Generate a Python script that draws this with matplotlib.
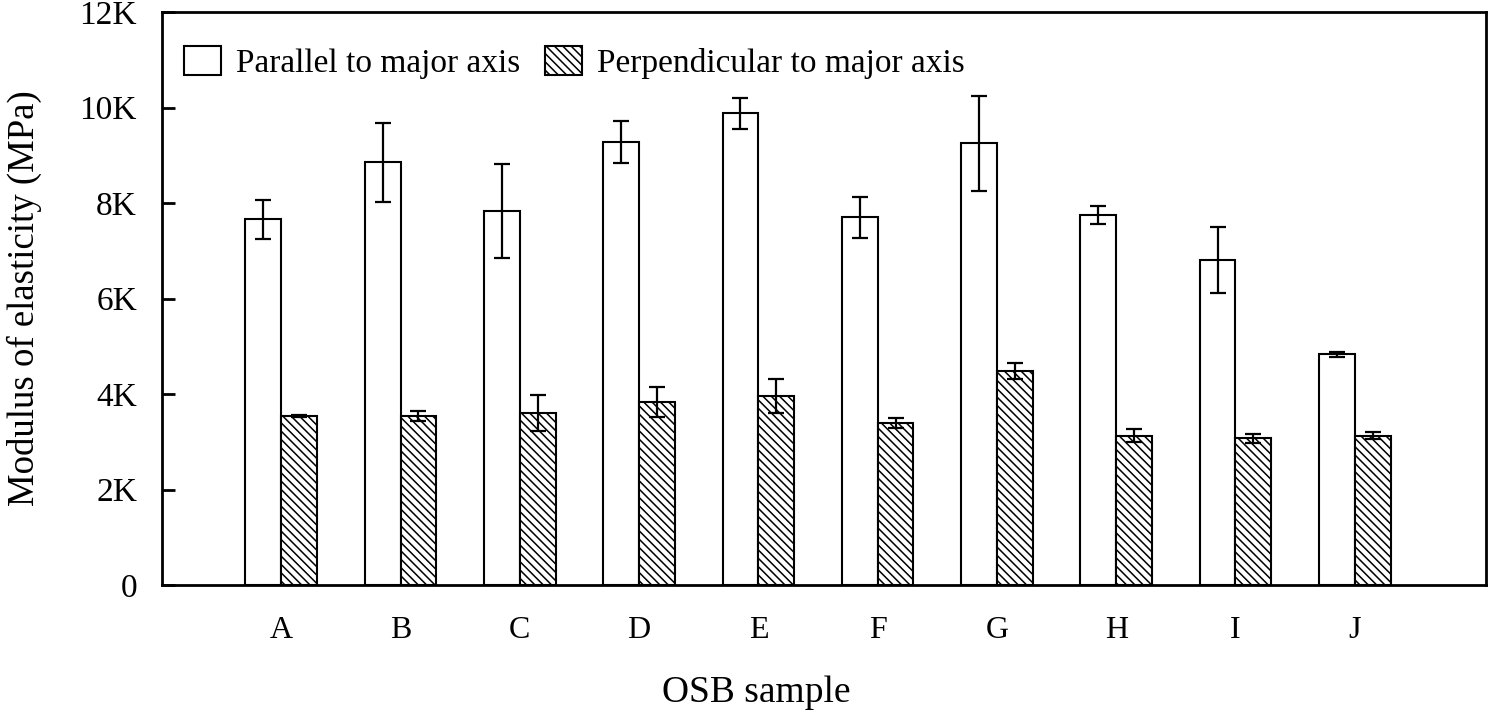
import matplotlib
matplotlib.use("Agg")
import matplotlib.pyplot as plt
import numpy as np

### DATA ###

samples = ["A", "B", "C", "D", "E", "F", "G", "H", "I", "J"]
parallel = [7660, 8850, 7830, 9280, 9880, 7700, 9250, 7750, 6810, 4830]
parallel_err = [410, 830, 980, 440, 320, 430, 1000, 190, 690, 60]
perpendicular = [3540, 3540, 3600, 3830, 3960, 3390, 4480, 3130, 3070, 3130]
perpendicular_err = [30, 100, 380, 320, 350, 100, 170, 130, 90, 70]
y_ticks = [0, 2000, 4000, 6000, 8000, 10000, 12000]
y_tick_labels = ["0", "2K", "4K", "6K", "8K", "10K", "12K"]

### PLOT ###

plt.rcParams["font.family"] = ["Liberation Serif", "DejaVu Serif"]
plt.rcParams["hatch.linewidth"] = 1.1

fig = plt.figure(figsize=(14.93, 7.2), dpi=100)
ax = fig.add_axes([0.1085, 0.1875, 0.8868, 0.7958])

x = np.arange(len(samples))
width = 0.30
err_style = dict(ecolor="black", elinewidth=1.6, capsize=6, capthick=1.6)

ax.bar(x - width / 2, parallel, width, yerr=parallel_err, color="white",
       edgecolor="black", linewidth=1.5, label="Parallel to major axis",
       error_kw=err_style)
ax.bar(x + width / 2, perpendicular, width, yerr=perpendicular_err, color="white",
       edgecolor="black", linewidth=1.5, hatch="\\\\\\\\",
       label="Perpendicular to major axis", error_kw=err_style)

ax.set_xlim(-1.0, 10.1)
ax.set_ylim(0, 12000)
ax.set_xticks(x, samples)
ax.set_yticks(y_ticks, y_tick_labels)
ax.tick_params(axis="y", direction="in", length=9, width=2, labelsize=24, pad=18)
ax.tick_params(axis="x", length=0, labelsize=23, pad=22)
for spine in ax.spines.values():
    spine.set_linewidth(2)

ax.set_ylabel("Modulus of elasticity (MPa)", fontsize=26.5)
ax.yaxis.set_label_coords(-0.091, 0.5)
ax.set_xlabel("OSB sample", fontsize=27)
ax.xaxis.set_label_coords(0.449, -0.158)

ax.legend(loc="upper left", bbox_to_anchor=(0.017, 0.941), ncol=2, frameon=False,
          fontsize=24, handlelength=1.1, handleheight=0.96, handletextpad=0.45,
          columnspacing=0.75, borderpad=0, borderaxespad=0)

fig.savefig("out.png", dpi=100)
